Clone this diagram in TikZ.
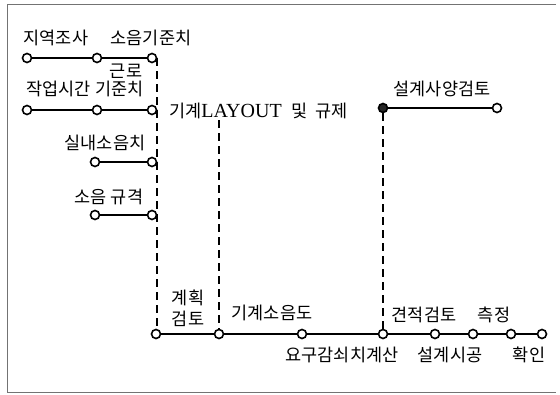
\documentclass[tikz,border=0pt]{standalone}
\usepackage{fontspec}
\setmainfont{Noto Sans CJK KR}
\newfontfamily\latinserif{Liberation Serif}
\begin{document}
\begin{tikzpicture}[x=1pt,y=-1pt,
  pt/.style={circle,draw,fill=white,inner sep=0pt,minimum size=9pt,line width=1.6pt},
  jpt/.style={pt,fill=black!85},
  lbl/.style={inner sep=0pt,font=\fontsize{17.5}{20}\selectfont},
  wire/.style={line width=1.8pt},
  dwire/.style={line width=1.8pt,dash pattern=on 8pt off 5pt},
  frame/.style={black!55,line width=0.7pt}]
\useasboundingbox (0,0) rectangle (560,394);
\draw[frame] (556,4) -- (7,4) -- (7,392) -- (556,392);
% row 1
\node[pt] (a1) at (27,58) {};
\node[pt] (a2) at (97,58) {};
\node[pt] (a3) at (152,58) {};
% row 2
\node[pt] (r1) at (27,110) {};
\node[pt] (r2) at (97,110) {};
\node[pt] (r3) at (152,110) {};
% row 3
\node[pt] (s1) at (95,162) {};
\node[pt] (s2) at (152,162) {};
% row 4
\node[pt] (t1) at (95,215) {};
\node[pt] (t2) at (152,215) {};
% bottom line
\node[pt] (b1) at (156,334) {};
\node[pt] (b2) at (219,334) {};
\node[pt] (b3) at (302,334) {};
\node[pt] (b4) at (383,334) {};
\node[pt] (b5) at (435,334) {};
\node[pt] (b6) at (473,334) {};
\node[pt] (b7) at (511,334) {};
\node[pt] (b8) at (542,334) {};
% design spec branch
\node[jpt] (c1) at (383,108) {};
\node[pt] (c2) at (497,108) {};
\coordinate (d2) at (219,120);
% connectors
\draw[wire] (a1) -- (a2) -- (a3);
\draw[wire] (r1) -- (r2) -- (r3);
\draw[wire] (s1) -- (s2);
\draw[wire] (t1) -- (t2);
\draw[wire] (b1) -- (b2) -- (b3) -- (b4) -- (b5) -- (b6) -- (b7) -- (b8);
\draw[wire] (c1) -- (c2);
\draw[dwire] (a3.east) -- (a3.east |- b1.north);
\draw[dwire] (d2) -- (b2);
\draw[dwire] (c1) -- (b4);
% labels
\node[lbl] (l1) at (56,38) {지역조사};
\node[lbl] (l2) at (151,38) {소음기준치};
\node[lbl] (l3) at (126,71) {근로};
\node[lbl] (l4) at (85,89) {작업시간 기준치};
\node[lbl] (l5) at (105,143) {실내소음치};
\node[lbl] (l6) at (109,197) {소음 규격};
\node[lbl,anchor=west] (l7) at (169,111) {기계{\latinserif\fontsize{20}{20}\selectfont LAYOUT}\hspace{10pt}및\hspace{8pt}규제};
\node[lbl] (l8) at (442,89) {설계사양검토};
\node[lbl,align=center,font=\fontsize{17.5}{21}\selectfont] (l9) at (188,308) {계획\\검토};
\node[lbl] (l10) at (272,313) {기계소음도};
\node[lbl] (l11) at (342,355) {요구감쇠치계산};
\node[lbl] (l12) at (424,315) {견적검토};
\node[lbl] (l13) at (494,315) {측정};
\node[lbl] (l14) at (450,355) {설계시공};
\node[lbl] (l15) at (529,355) {확인};
\end{tikzpicture}
\end{document}
